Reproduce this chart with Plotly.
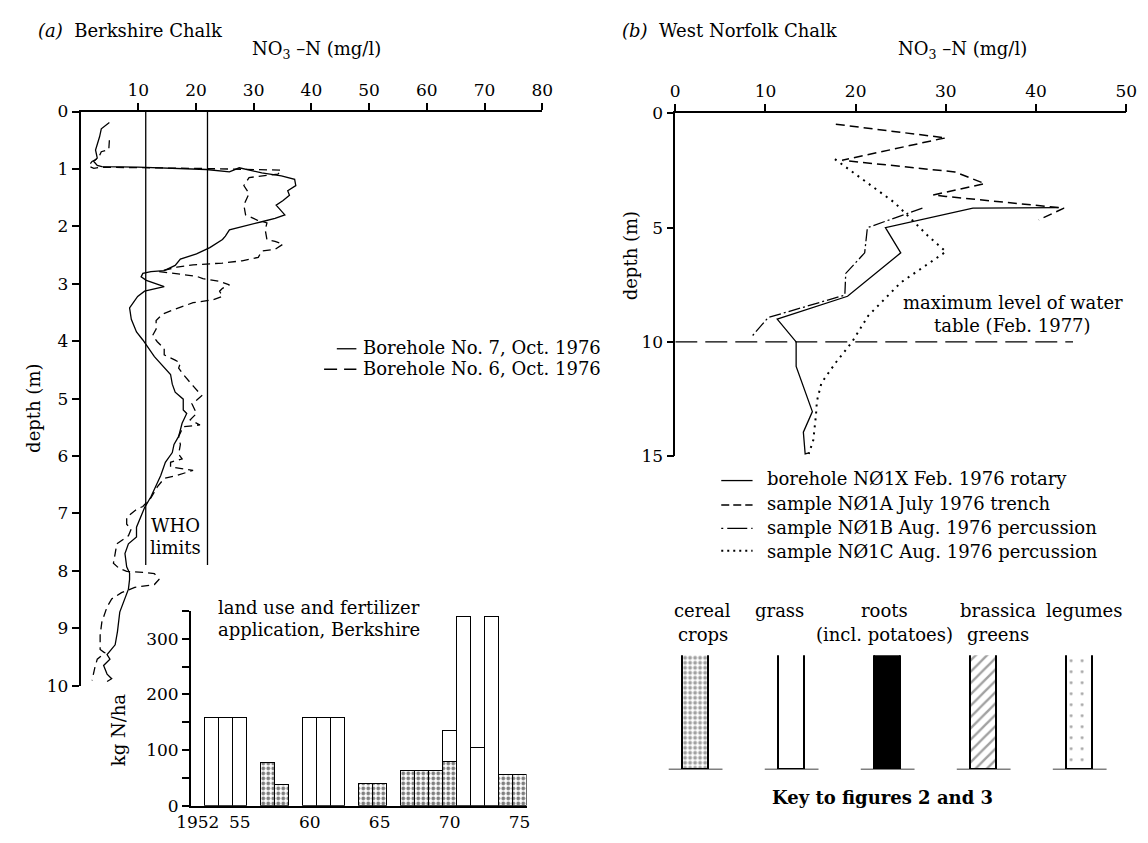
import plotly.graph_objects as go

W, H = 1148, 843
FONT = "DejaVu Serif"

# ---------------- data: panel (a) Berkshire Chalk ----------------
bh7_no3 = [5.0, 3.6, 3.3, 2.6, 2.9, 2.3, 2.9, 3.7, 9.9, 21.8, 25.8, 27.5, 31.4, 34.8, 37.1, 37.3,
           35.9, 36.2, 35.1, 33.9, 35.4, 33.7, 31.4, 28.0, 25.8, 25.1, 24.6, 22.4, 20.1, 17.3, 16.4,
           14.5, 12.2, 10.8, 10.5, 11.4, 14.5, 11.1, 9.9, 8.5, 8.8, 9.7, 10.8, 12.8, 14.7, 15.6,
           15.9, 16.4, 17.8, 17.8, 18.4, 17.6, 17.0, 16.2, 15.9, 14.7, 13.9, 13.1, 12.2, 11.1, 10.5,
           9.7, 9.7, 8.3, 7.7, 8.0, 8.5, 8.5, 8.3, 7.7, 6.8, 6.4, 6.0, 4.6, 5.1, 4.0, 4.6, 5.4, 4.6]
bh7_depth = [0.19, 0.30, 0.44, 0.67, 0.81, 0.87, 0.94, 0.96, 0.97, 1.01, 1.05, 0.98, 1.07, 1.12, 1.18, 1.29,
             1.38, 1.46, 1.55, 1.63, 1.80, 1.86, 1.92, 2.00, 2.06, 2.17, 2.23, 2.37, 2.48, 2.57, 2.68,
             2.77, 2.79, 2.82, 2.88, 2.94, 3.05, 3.13, 3.22, 3.42, 3.62, 3.84, 3.98, 4.27, 4.47, 4.58,
             4.75, 4.89, 5.01, 5.20, 5.26, 5.43, 5.66, 5.80, 5.94, 6.11, 6.34, 6.51, 6.71, 6.90, 7.05,
             7.24, 7.41, 7.53, 7.70, 7.93, 8.04, 8.15, 8.32, 8.49, 8.72, 9.06, 9.29, 9.46, 9.54, 9.65,
             9.80, 9.88, 9.93]

bh6_no3 = [5.0, 4.9, 3.6, 3.1, 2.0, 1.4, 2.3, 3.4, 20.0, 34.8, 34.2, 29.2, 28.3, 29.2, 28.3, 28.6,
           30.6, 32.3, 32.0, 32.3, 33.7, 35.1, 33.7, 31.4, 30.8, 28.0, 24.6, 19.5, 16.7, 14.2, 13.6,
           16.2, 20.1, 21.2, 24.1, 25.8, 24.6, 24.1, 24.6, 22.9, 19.5, 16.2, 14.2, 13.1, 13.1, 12.5,
           13.3, 14.5, 14.5, 16.4, 17.3, 17.0, 17.8, 19.5, 21.0, 20.1, 19.3, 20.1, 19.0, 20.7, 17.8,
           17.0, 17.3, 17.0, 17.6, 15.6, 15.6, 19.5, 16.7, 14.5, 13.3, 12.2, 10.8, 9.7, 8.0, 8.0,
           8.8, 8.3, 6.3, 6.0, 5.7, 6.6, 8.0, 11.1, 12.8, 13.6, 12.8, 9.4, 7.1, 5.4, 4.6, 3.7,
           3.4, 3.4, 4.2, 2.9, 2.5, 2.0]
bh6_depth = [0.50, 0.66, 0.70, 0.81, 0.87, 0.95, 0.99, 0.97, 0.99, 1.02, 1.09, 1.15, 1.29, 1.43, 1.63, 1.80,
             1.89, 1.94, 2.06, 2.23, 2.26, 2.31, 2.40, 2.43, 2.54, 2.60, 2.64, 2.67, 2.71, 2.77, 2.79,
             2.82, 2.87, 2.91, 2.96, 3.02, 3.08, 3.13, 3.22, 3.28, 3.33, 3.45, 3.53, 3.64, 3.79, 3.90,
             4.01, 4.13, 4.24, 4.33, 4.38, 4.47, 4.58, 4.78, 4.95, 5.03, 5.09, 5.26, 5.37, 5.46, 5.49,
             5.66, 5.80, 5.97, 6.05, 6.11, 6.19, 6.25, 6.34, 6.39, 6.54, 6.73, 6.88, 6.93, 7.07, 7.19,
             7.27, 7.39, 7.53, 7.70, 7.87, 7.95, 8.01, 8.03, 8.05, 8.15, 8.24, 8.29, 8.38, 8.49, 8.63, 8.89,
             9.12, 9.37, 9.43, 9.54, 9.68, 9.91]

who_limits = [11.3, 22.0]
who_depth = 7.9

# land use / fertilizer (kg N/ha), Berkshire
cereal_years = [1957, 1958, 1964, 1965, 1967, 1968, 1969, 1970, 1974, 1975]
cereal_kg = [76, 37, 39, 39, 63, 63, 63, 78, 56, 56]
grass_years = [1953, 1954, 1955, 1960, 1961, 1962, 1970, 1971, 1972, 1973]
grass_kg = [158, 158, 158, 158, 158, 158, 56, 339, 104, 339]
year_ticks = [1952, 1955, 1960, 1965, 1970, 1975]
year_labels = ["1952", "55", "60", "65", "70", "75"]

# ---------------- data: panel (b) West Norfolk Chalk ----------------
n1x_no3 = [42.5, 33.0, 23.3, 25.0, 19.1, 11.3, 13.4, 13.4, 15.2, 14.2, 14.4, 14.9]
n1x_depth = [4.12, 4.14, 5.0, 6.1, 8.0, 9.0, 10.0, 11.07, 13.05, 13.95, 14.9, 14.85]
n1a_no3 = [17.8, 30.0, 29.3, 18.5, 31.0, 34.3, 28.6, 30.0, 43.1, 40.3]
n1a_depth = [0.47, 1.07, 1.12, 2.05, 2.56, 3.07, 3.57, 3.63, 4.14, 4.66]
n1b_no3 = [27.4, 21.3, 21.0, 18.9, 18.8, 10.3, 8.4]
n1b_depth = [4.14, 5.0, 6.1, 7.0, 7.95, 8.93, 9.8]
n1c_no3 = [17.7, 21.0, 24.3, 26.1, 28.0, 30.0, 25.0, 21.4, 19.6, 17.8, 16.2, 15.7, 15.6, 15.3, 14.8]
n1c_depth = [2.0, 2.95, 3.9, 4.6, 5.35, 6.05, 7.4, 8.85, 10.0, 10.9, 11.8, 12.6, 13.2, 14.3, 14.9]
water_table_depth = 10.0
water_table_extent = 44.1

# key to crop types
key_crops = ["cereal crops", "grass", "roots", "brassica greens", "legumes"]
key_height = [1, 1, 1, 1, 1]


def X(p):
    return p / W


def Y(p):
    return 1 - p / H


fig = go.Figure()

# panel (a) profiles
fig.add_trace(go.Scatter(x=bh7_no3, y=bh7_depth, mode="lines", xaxis="x", yaxis="y",
                         line=dict(color="black", width=1.3), name="Borehole No. 7, Oct. 1976"))
fig.add_trace(go.Scatter(x=bh6_no3, y=bh6_depth, mode="lines", xaxis="x", yaxis="y",
                         line=dict(color="black", width=1.3, dash="8px,5px"), name="Borehole No. 6, Oct. 1976"))

# inset bar chart
fig.add_trace(go.Bar(x=cereal_years, y=cereal_kg, width=1, xaxis="x3", yaxis="y3", name="cereal",
                     marker=dict(color="white", line=dict(color="black", width=1.2),
                                 pattern=dict(shape=".", fgcolor="black", bgcolor="white", size=5, solidity=0.45))))
fig.add_trace(go.Bar(x=grass_years, y=grass_kg, width=1, xaxis="x3", yaxis="y3", name="grass",
                     marker=dict(color="white", line=dict(color="black", width=1.2))))

# panel (b) profiles
fig.add_trace(go.Scatter(x=n1x_no3, y=n1x_depth, mode="lines", xaxis="x2", yaxis="y2",
                         line=dict(color="black", width=1.3), name="borehole NØ1X"))
fig.add_trace(go.Scatter(x=n1a_no3, y=n1a_depth, mode="lines", xaxis="x2", yaxis="y2",
                         line=dict(color="black", width=1.5, dash="9px,5px"), name="sample NØ1A"))
fig.add_trace(go.Scatter(x=n1b_no3, y=n1b_depth, mode="lines", xaxis="x2", yaxis="y2",
                         line=dict(color="black", width=1.3, dash="12px,3px,2px,3px"), name="sample NØ1B"))
fig.add_trace(go.Scatter(x=n1c_no3, y=n1c_depth, mode="lines", xaxis="x2", yaxis="y2",
                         line=dict(color="black", width=2, dash="2px,5px"), name="sample NØ1C"))

# key bars
fig.add_trace(go.Bar(x=key_crops, y=key_height, width=0.275, xaxis="x4", yaxis="y4",
                     marker=dict(color=["white", "white", "black", "white", "white"],
                                 line=dict(color="black", width=1.5),
                                 pattern=dict(shape=[".", "", "", "/", "."],
                                              fgcolor="black", bgcolor=["white", "white", "black", "white", "white"],
                                              size=[5, 8, 8, 8, 11], solidity=[0.45, 0.3, 0.3, 0.3, 0.05]))))

axis_common = dict(showgrid=False, zeroline=False, showline=True, linecolor="black", linewidth=1.5,
                   ticks="outside", tickcolor="black", tickwidth=1.5, ticklen=7,
                   tickfont=dict(family=FONT, size=17, color="black"))

layout = dict(
    width=W, height=H, autosize=False,
    margin=dict(l=0, r=0, t=0, b=0),
    paper_bgcolor="white", plot_bgcolor="rgba(0,0,0,0)",
    showlegend=False, barmode="stack", bargap=0,
    font=dict(family=FONT, size=18, color="black"),
    xaxis=dict(axis_common, domain=[X(68), X(540)], range=[0, 80], side="top", anchor="y",
               tickvals=[10, 20, 30, 40, 50, 60, 70, 80]),
    yaxis=dict(axis_common, domain=[Y(692), Y(104)], range=[10, 0], anchor="x",
               tickvals=list(range(11))),
    xaxis2=dict(axis_common, domain=[X(676), X(1137)], range=[0, 50], side="top", anchor="y2",
                tickvals=[0, 10, 20, 30, 40, 50], ticklen=8),
    yaxis2=dict(axis_common, domain=[Y(457), Y(106)], range=[15, 0], anchor="x2",
                tickvals=[0, 5, 10, 15]),
    xaxis3=dict(axis_common, domain=[X(180.7), X(524)], range=[1951.5, 1975.5], anchor="y3",
                tickvals=year_ticks, ticktext=year_labels, ticks=""),
    yaxis3=dict(axis_common, domain=[Y(815), Y(615.5)], range=[0, 350], anchor="x3",
                tickvals=[0, 100, 200, 300],
                minor=dict(tickvals=[50, 150, 250, 350], ticks="outside", ticklen=7,
                           tickcolor="black", tickwidth=1.5)),
    xaxis4=dict(domain=[X(647.7), X(1138.5)], range=[-0.5, 4.5], anchor="y4", visible=False,
                type="category"),
    yaxis4=dict(domain=[Y(778), Y(661)], range=[0, 1.0], anchor="x4", visible=False),
)

shapes = []
for w in who_limits:
    shapes.append(dict(type="line", xref="x", yref="y", x0=w, x1=w, y0=0, y1=who_depth,
                       line=dict(color="black", width=1.3)))
shapes.append(dict(type="line", xref="x2", yref="y2", x0=0, x1=water_table_extent,
                   y0=water_table_depth, y1=water_table_depth,
                   line=dict(color="black", width=1.3, dash="22px,8px")))
# key baselines
for i in range(len(key_crops)):
    shapes.append(dict(type="line", xref="x4", yref="y4", x0=i - 0.28, x1=i + 0.28, y0=0, y1=0,
                       line=dict(color="black", width=1.5)))


def seg(x0, x1, y, dash="solid", width=1.3):
    shapes.append(dict(type="line", xref="paper", yref="paper", x0=X(x0), x1=X(x1), y0=Y(y), y1=Y(y),
                       line=dict(color="black", width=width, dash=dash)))


# legend samples panel (a)
seg(330, 350, 347)
seg(317, 350, 368, dash="13px,7px")
# legend samples panel (b)
seg(723, 755, 482)
seg(723, 755, 507, dash="8px,4px", width=1.5)
seg(723, 755, 531, dash="2px,4px,20px,4px")
seg(723, 755, 554, dash="2px,4px", width=2)

layout["shapes"] = shapes

ann = []


def txt(x, y, s, size=18, xanchor="center", yanchor="middle", angle=0, **kw):
    ann.append(dict(x=X(x), y=Y(y), xref="paper", yref="paper", text=s, showarrow=False,
                    xanchor=xanchor, yanchor=yanchor, textangle=angle,
                    font=dict(family=FONT, size=size, color="black"), **kw))


# titles
txt(23, 21, "<i>(a)</i>  Berkshire Chalk", xanchor="left")
txt(309, 41, "NO<sub>3</sub> –N (mg/l)")
txt(620, 21, "<i>(b)</i>  West Norfolk Chalk", xanchor="left")
txt(970, 41, "NO<sub>3</sub> –N (mg/l)")
txt(20, 408, "depth (m)", angle=-90)
txt(630, 252, "depth (m)", angle=-90)
txt(165, 528, "WHO")
txt(165, 551, "limits")
txt(355, 346, "Borehole No. 7, Oct. 1976", xanchor="left")
txt(355, 367, "Borehole No. 6, Oct. 1976", xanchor="left")
txt(207, 612, "land use and fertilizer", xanchor="left")
txt(207, 635, "application, Berkshire", xanchor="left")
txt(107, 737, "kg N/ha", angle=-90)
txt(1021, 300, "maximum level of water")
txt(1021, 323, "table (Feb. 1977)")
txt(768, 480, "borehole NØ1X Feb. 1976 rotary", xanchor="left")
txt(768, 505, "sample NØ1A July 1976 trench", xanchor="left")
txt(768, 530, "sample NØ1B Aug. 1976 percussion", xanchor="left")
txt(768, 555, "sample NØ1C Aug. 1976 percussion", xanchor="left")
# key labels
txt(704, 615, "cereal")
txt(704, 640, "crops")
txt(783, 615, "grass")
txt(890, 615, "roots")
txt(890, 640, "(incl. potatoes)")
txt(965, 615, "brassica", xanchor="left")
txt(972, 640, "greens", xanchor="left")
txt(1094, 615, "legumes")
txt(888, 807, "<b>Key to figures 2 and 3</b>")

layout["annotations"] = ann
fig.update_layout(**layout)

fig.write_html("out.html", config={"displayModeBar": False},
               post_script="document.body.style.margin='0px';document.body.style.padding='0px';")
